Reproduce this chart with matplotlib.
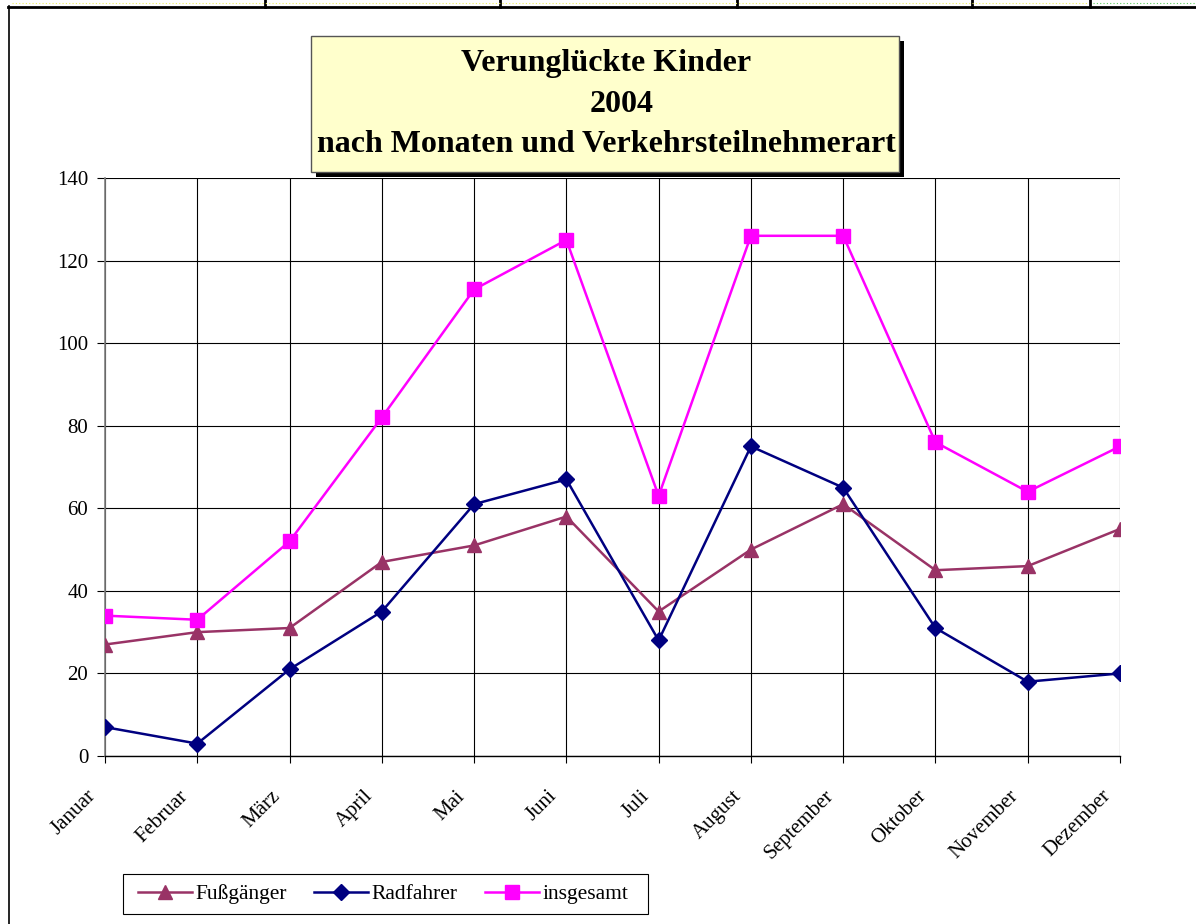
import matplotlib
matplotlib.use("Agg")
import matplotlib.pyplot as plt
from matplotlib.patches import Rectangle
from matplotlib.lines import Line2D
from matplotlib.transforms import ScaledTranslation

months = ["Januar", "Februar", "März", "April", "Mai", "Juni", "Juli",
          "August", "September", "Oktober", "November", "Dezember"]
fussgaenger = [27, 30, 31, 47, 51, 58, 35, 50, 61, 45, 46, 55]
radfahrer = [7, 3, 21, 35, 61, 67, 28, 75, 65, 31, 18, 20]
insgesamt = [34, 33, 52, 82, 113, 125, 63, 126, 126, 76, 64, 75]
y_ticks = [0, 20, 40, 60, 80, 100, 120, 140]
title_lines = ["Verunglückte Kinder", "2004", "nach Monaten und Verkehrsteilnehmerart"]

W, H = 1196, 924
plt.rcParams['font.family'] = ['Liberation Serif', 'DejaVu Serif']
fig = plt.figure(figsize=(W / 100, H / 100), dpi=100)

def fx(x):
    return x / W

def fy(y):
    return 1 - y / H

# page decorations: table top line and left border
fig.add_artist(Line2D([fx(8), 1], [fy(6.5), fy(6.5)], color='black', lw=2, transform=fig.transFigure))
fig.add_artist(Line2D([fx(9), fx(9)], [fy(6), 0], color='black', lw=1.2, transform=fig.transFigure))
for xs in [265, 500, 737, 972, 1090]:
    fig.add_artist(Line2D([fx(xs), fx(xs)], [1, fy(6.5)], color='black', lw=2, transform=fig.transFigure))
fig.add_artist(Line2D([fx(12), fx(1088)], [fy(3), fy(3)], color='#f0f060', lw=0.8, ls=(0, (1, 2)), transform=fig.transFigure))
fig.add_artist(Line2D([fx(1093), 1], [fy(3), fy(3)], color='#60d060', lw=0.8, ls=(0, (1, 2)), transform=fig.transFigure))

# axes
left, right, top, bottom = 105, 1120, 178, 756
ax = fig.add_axes([fx(left), fy(bottom), fx(right - left), (bottom - top) / H])
x = list(range(len(months)))
ax.plot(x, fussgaenger, color='#993366', lw=1.8, marker='^', ms=10.5, label='Fußgänger', zorder=3)
ax.plot(x, radfahrer, color='#000080', lw=1.8, marker='D', ms=8.5, label='Radfahrer', zorder=3)
ax.plot(x, insgesamt, color='#FF00FF', lw=1.8, marker='s', ms=10, label='insgesamt', zorder=3)

ax.set_xlim(0, len(months) - 1)
ax.set_ylim(0, 140)
ax.set_yticks(y_ticks)
ax.set_xticks(x)
ax.set_xticklabels(months, rotation=45, ha='right', va='center', rotation_mode='anchor', fontsize=15)
ax.tick_params(axis='y', direction='out', length=6, width=0.8, labelsize=15, pad=6)
ax.tick_params(axis='x', direction='out', length=5, width=0.8, pad=22)
for lab in ax.get_xticklabels():
    lab.set_transform(lab.get_transform() + ScaledTranslation(-0.12, 0, fig.dpi_scale_trans))
ax.grid(True, color='black', lw=0.8)
ax.set_axisbelow(True)
for s in ['top', 'right']:
    ax.spines[s].set_visible(False)
ax.spines['left'].set_color('#808080')
ax.spines['left'].set_linewidth(1.2)
ax.spines['bottom'].set_color('black')
ax.spines['bottom'].set_linewidth(1.0)
ax.patch.set_alpha(0)

# title box with shadow
bx0, bx1, by0, by1 = 311, 899, 36, 172
fig.add_artist(Rectangle((fx(bx0 + 5), fy(by1 + 5)), fx(bx1 - bx0), (by1 - by0) / H,
                         facecolor='black', edgecolor='none', transform=fig.transFigure, zorder=5))
fig.add_artist(Rectangle((fx(bx0), fy(by1)), fx(bx1 - bx0), (by1 - by0) / H,
                         facecolor='#FFFFCC', edgecolor='#555555', lw=1, transform=fig.transFigure, zorder=6))
for t, (cx, cy) in zip(title_lines, [(606, 64), (622, 104), (606, 144)]):
    fig.text(fx(cx), fy(cy), t, ha='center', va='center', fontsize=23, fontweight='bold', zorder=7)

# legend box
fig.add_artist(Rectangle((fx(123), fy(914)), fx(648 - 123), (914 - 874) / H,
                         facecolor='white', edgecolor='black', lw=0.8, transform=fig.transFigure, zorder=4))
leg = fig.legend(loc='center left', bbox_to_anchor=(fx(138), fy(894)), ncol=3, fontsize=15.5,
                 frameon=False, handlelength=2.5, columnspacing=1.25, handletextpad=0.18,
                 borderpad=0, borderaxespad=0)
leg.set_zorder(8)

fig.savefig('out.png', dpi=100)
